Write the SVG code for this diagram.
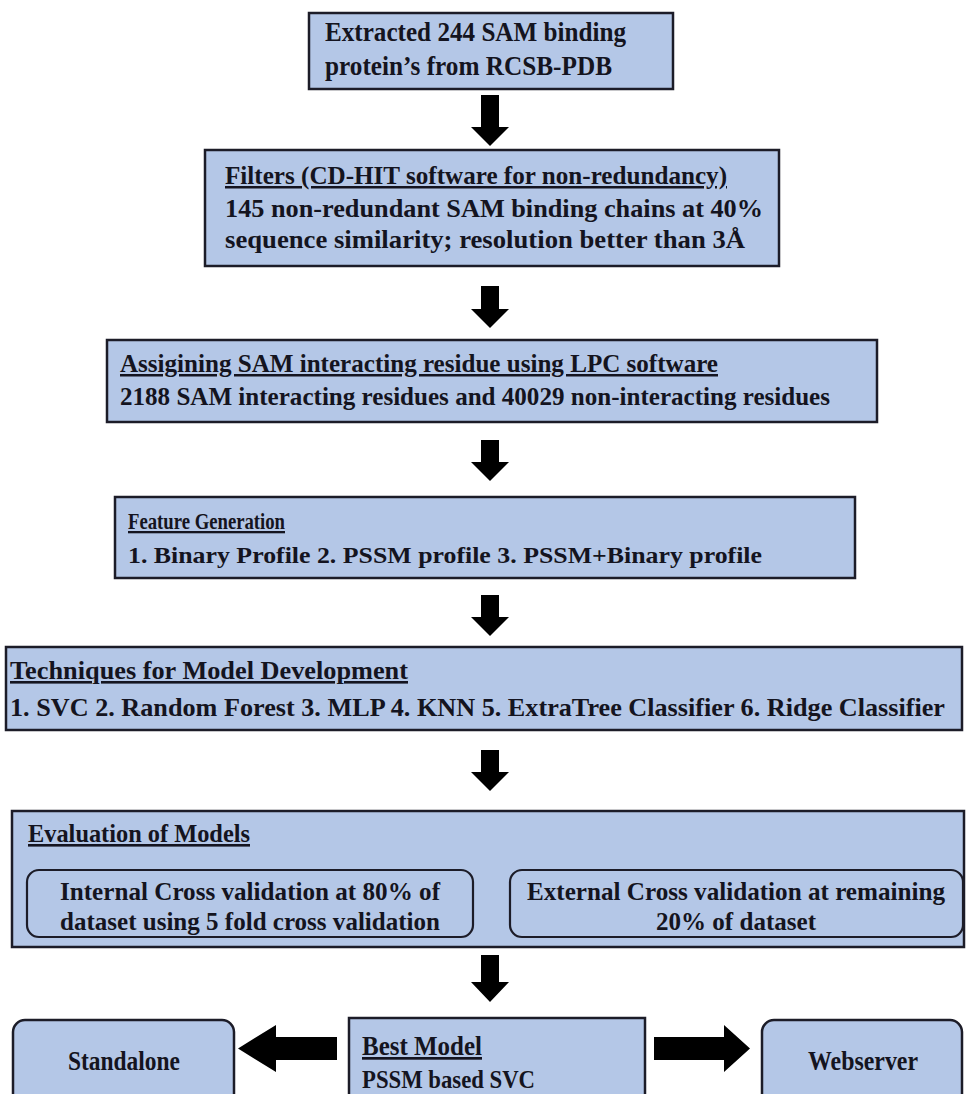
<svg xmlns="http://www.w3.org/2000/svg" width="966" height="1094" viewBox="0 0 966 1094">
<style>
.box{fill:#b4c7e7;stroke:#1c1c28;stroke-width:2.5}
.inner{fill:#b4c7e7;stroke:#1c1c28;stroke-width:2.2}
.t{font-family:"Liberation Serif","Times New Roman",serif;font-weight:bold;fill:#141420}
.u{text-decoration:underline}
.arr{fill:#000}
</style>
<rect width="966" height="1094" fill="#fff"/>
<g id="n1">
<rect class="box" x="309" y="13" width="364" height="76"/>
<text class="t" x="325" y="41" font-size="27" textLength="301" lengthAdjust="spacingAndGlyphs">Extracted  244 SAM binding</text>
<text class="t" x="325" y="75" font-size="27" textLength="287" lengthAdjust="spacingAndGlyphs">protein’s from RCSB-PDB</text>
</g>
<g id="n2">
<rect class="box" x="205" y="150" width="574" height="116"/>
<text class="t u" x="225" y="184" font-size="25" textLength="502" lengthAdjust="spacingAndGlyphs">Filters  (CD-HIT software for non-redundancy)</text>
<text class="t" x="225" y="217" font-size="25" textLength="538" lengthAdjust="spacingAndGlyphs">145 non-redundant SAM binding chains at 40%</text>
<text class="t" x="225" y="248" font-size="25" textLength="520" lengthAdjust="spacingAndGlyphs">sequence similarity;  resolution better than 3Å</text>
</g>
<g id="n3">
<rect class="box" x="107" y="340" width="770" height="82"/>
<text class="t u" x="120" y="372" font-size="25" textLength="598" lengthAdjust="spacingAndGlyphs">Assigining SAM interacting residue using LPC software</text>
<text class="t" x="120" y="405" font-size="25" textLength="710" lengthAdjust="spacingAndGlyphs">2188 SAM interacting residues and 40029 non-interacting residues</text>
</g>
<g id="n4">
<rect class="box" x="115" y="497" width="740" height="81"/>
<text class="t u" x="128" y="529" font-size="23" textLength="157" lengthAdjust="spacingAndGlyphs">Feature Generation</text>
<text class="t" x="128" y="563" font-size="23" textLength="634" lengthAdjust="spacingAndGlyphs">1. Binary Profile    2. PSSM profile  3. PSSM+Binary profile</text>
</g>
<g id="n5">
<rect class="box" x="6" y="647" width="956" height="83"/>
<text class="t u" x="10" y="679" font-size="26" textLength="398" lengthAdjust="spacingAndGlyphs">Techniques for Model Development</text>
<text class="t" x="10" y="716" font-size="26" textLength="935" lengthAdjust="spacingAndGlyphs">1. SVC  2. Random Forest 3. MLP  4. KNN 5. ExtraTree Classifier 6. Ridge Classifier</text>
</g>
<g id="n6">
<rect class="box" x="12" y="811" width="952" height="136"/>
<text class="t u" x="28" y="842" font-size="26" textLength="222" lengthAdjust="spacingAndGlyphs">Evaluation of Models</text>
<g id="n6a">
<rect class="inner" x="27" y="870" width="446" height="67" rx="12"/>
<text class="t" x="60" y="900" font-size="25" textLength="380" lengthAdjust="spacingAndGlyphs">Internal Cross validation  at 80% of</text>
<text class="t" x="60" y="930" font-size="25" textLength="380" lengthAdjust="spacingAndGlyphs">dataset using 5 fold cross validation</text>
</g>
<g id="n6b">
<rect class="inner" x="510" y="870" width="453" height="67" rx="12"/>
<text class="t" x="527" y="900" font-size="25" textLength="418" lengthAdjust="spacingAndGlyphs">External Cross validation at remaining</text>
<text class="t" x="656" y="930" font-size="25" textLength="160" lengthAdjust="spacingAndGlyphs">20% of dataset</text>
</g>
</g>
<g id="n7">
<rect class="box" x="349" y="1018" width="296" height="90"/>
<text class="t u" x="362" y="1055" font-size="27" textLength="120" lengthAdjust="spacingAndGlyphs">Best Model</text>
<text class="t" x="362" y="1088" font-size="26" textLength="173" lengthAdjust="spacingAndGlyphs">PSSM based SVC</text>
</g>
<g id="n8">
<rect class="box" x="13" y="1020" width="221" height="90" rx="12"/>
<text class="t" x="68" y="1070" font-size="27" textLength="112" lengthAdjust="spacingAndGlyphs">Standalone</text>
</g>
<g id="n9">
<rect class="box" x="762" y="1020" width="200" height="90" rx="12"/>
<text class="t" x="808" y="1070" font-size="27" textLength="110" lengthAdjust="spacingAndGlyphs">Webserver</text>
</g>
<g id="connectors">
<polygon class="arr" points="481,95 499,95 499,127 509,127 490,146 471,127 481,127"/>
<polygon class="arr" points="481,286 499,286 499,309 509,309 490,328 471,309 481,309"/>
<polygon class="arr" points="481,440 499,440 499,462 509,462 490,481 471,462 481,462"/>
<polygon class="arr" points="481,595 499,595 499,617 509,617 490,636 471,617 481,617"/>
<polygon class="arr" points="481,750 499,750 499,772 509,772 490,791 471,772 481,772"/>
<polygon class="arr" points="481,955 499,955 499,982 509,982 490,1002 471,982 481,982"/>
<polygon class="arr" points="337,1037 337,1060 276,1060 276,1072 238,1048.5 276,1025 276,1037"/>
<polygon class="arr" points="654,1037 654,1060 724,1060 724,1072 750,1048.5 724,1025 724,1037"/>
</g>
</svg>
